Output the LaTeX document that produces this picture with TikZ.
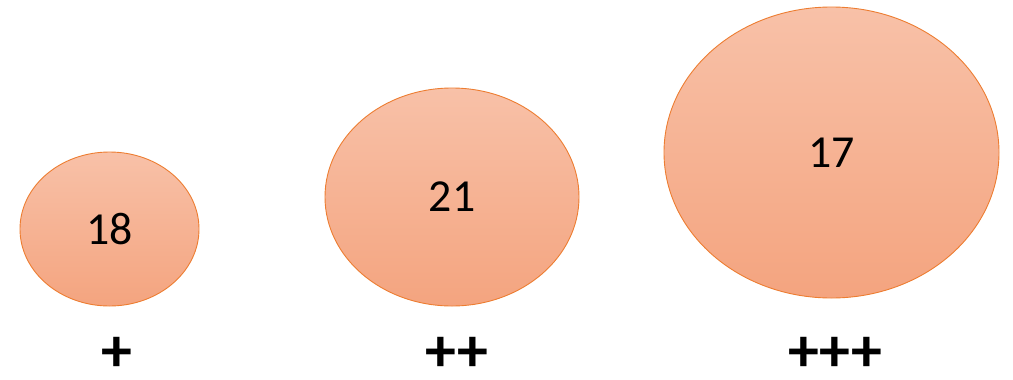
\documentclass[tikz,border=0pt]{standalone}
\usepackage{fontspec}
\setmainfont{Carlito}
\usetikzlibrary{shapes.geometric}
\definecolor{edgeor}{HTML}{ED7D31}
\definecolor{topfill}{HTML}{F8C1A8}
\definecolor{botfill}{HTML}{F4A47F}
\tikzset{
  blob/.style={ellipse, draw=edgeor, line width=0.9bp, top color=topfill, bottom color=botfill, inner sep=0pt, font=\fontsize{46}{46}\selectfont},
  pluslabel/.style={font=\fontsize{62}{62}\selectfont\bfseries, inner sep=0pt, text depth=0pt, text height=40bp, anchor=base}
}
\begin{document}
\begin{tikzpicture}[x=1bp,y=-1bp]
\useasboundingbox (0,0) rectangle (1013,379);
\node[blob, minimum width=179bp, minimum height=154bp] (e1) at (109.5,229) {18};
\node[blob, minimum width=254bp, minimum height=218bp] (e2) at (452,197) {21};
\node[blob, minimum width=335bp, minimum height=291bp] (e3) at (831.5,152.5) {17};
\node[pluslabel] (p1) at (117,371) {+};
\node[pluslabel] (p2) at (457,371) {++};
\node[pluslabel] (p3) at (835,371) {+++};
\end{tikzpicture}
\end{document}
